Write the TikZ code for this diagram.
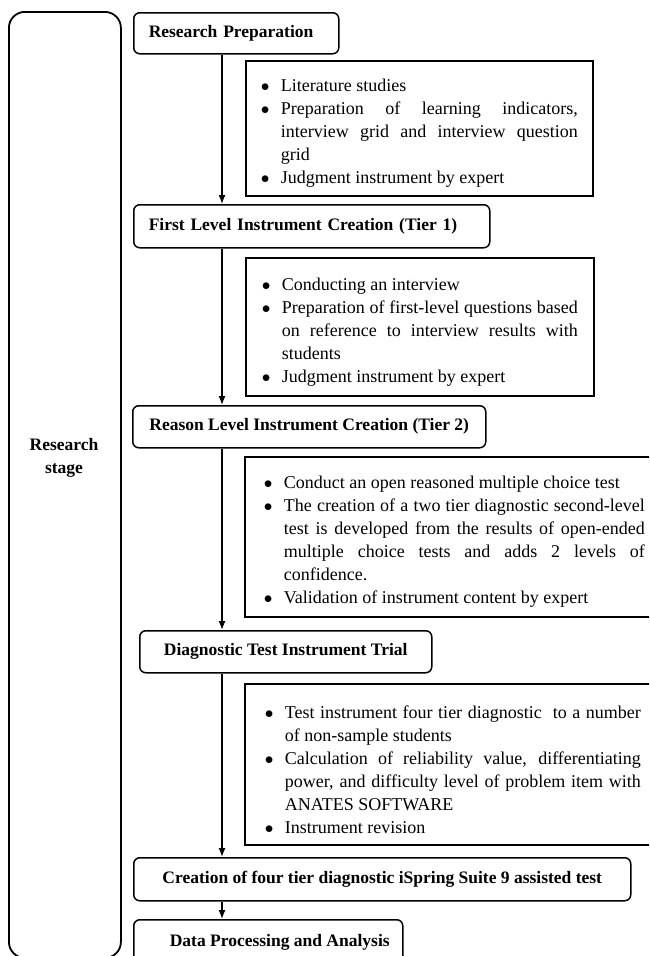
\documentclass[tikz,border=0pt]{standalone}
\usepackage{fontspec}
\setmainfont{Liberation Serif}
\usetikzlibrary{arrows.meta}
\newcommand\bitem[1]{\par\hangindent=20pt\hangafter=1\noindent\makebox[20pt][l]{$\bullet$}#1}
\begin{document}
\begin{tikzpicture}[x=1pt,y=-1pt,
  stage/.style={draw, line width=1.5pt, rounded corners=6pt, anchor=north west,
    font=\fontsize{17.5}{20}\selectfont\bfseries, inner ysep=0pt, inner xsep=0pt},
  bullets/.style={draw, line width=1.8pt, anchor=north west, align=justify,
    font=\fontsize{18}{23}\selectfont, inner ysep=0pt},
  flow/.style={line width=1.3pt, -{Latex[length=9pt,width=7pt]}}]
\clip (0,0) rectangle (649,956);
% left frame
\node (frame) [draw, line width=1.8pt, rounded corners=16pt, anchor=north west,
  minimum width=112pt, minimum height=946pt, inner sep=0pt] at (8,11) {};
\node (stagelabel) [align=center, font=\fontsize{17.5}{23}\selectfont\bfseries] at (64,458) {Research\\stage};
% stages
\node (rp) [stage, minimum height=41pt, text width=175pt, inner xsep=15pt, align=left] at (133,12) {Research Preparation};
\node (fl) [stage, minimum height=43pt, text width=326pt, inner xsep=15pt, align=left] at (133,204) {First Level Instrument Creation (Tier 1)};
\node (rl) [stage, minimum width=353pt, minimum height=42pt] at (132,405) {Reason Level Instrument Creation (Tier 2)};
\node (dt) [stage, minimum width=292pt, minimum height=42pt] at (139,630) {Diagnostic Test Instrument Trial};
\node (cr) [stage, minimum width=497pt, minimum height=43pt] at (133,857) {Creation of four tier diagnostic iSpring Suite 9 assisted test};
\node (dp) [stage, minimum width=269pt, minimum height=46pt, anchor=north west] at (133,919) {\hspace*{23pt}Data Processing and Analysis};
% bullet boxes
\node (b1) [bullets, minimum height=135pt, text width=317pt, inner xsep=15pt] at (245,60) {%
\bitem{Literature studies}
\bitem{Preparation of learning indicators,\linebreak interview grid and interview question\linebreak grid}
\bitem{Judgment instrument by expert}\par};
\node (b2) [bullets, minimum height=138pt, text width=316pt, inner xsep=16pt] at (245,257) {%
\bitem{Conducting an interview}
\bitem{Preparation of first-level questions based\linebreak on reference to interview results with\linebreak students}
\bitem{Judgment instrument by expert}\par};
\node (b3) [bullets, minimum height=160pt, text width=381pt, inner xsep=19pt] at (244,456) {%
\bitem{Conduct an open reasoned multiple choice test}
\bitem{The creation of a two tier diagnostic second-level\linebreak test is developed from the results of open-ended\linebreak multiple choice tests and adds 2 levels of\linebreak confidence.}
\bitem{Validation of instrument content by expert}\par};
\node (b4) [bullets, minimum height=161pt, text width=376pt, inner xsep=20pt] at (244,683) {%
\bitem{Test instrument four tier diagnostic\ \ to a number\linebreak of non-sample students}
\bitem{Calculation of reliability value, differentiating\linebreak power, and difficulty level of problem item with\linebreak ANATES SOFTWARE}
\bitem{Instrument revision}\par};
% connectors
\coordinate (spine) at (222,0);
\draw[flow] (rp.south -| spine) -- (fl.north -| spine);
\draw[flow] (fl.south -| spine) -- (rl.north -| spine);
\draw[flow] (rl.south -| spine) -- (dt.north -| spine);
\draw[flow] (dt.south -| spine) -- (cr.north -| spine);
\draw[flow] (cr.south -| spine) -- (dp.north -| spine);
\end{tikzpicture}
\end{document}
